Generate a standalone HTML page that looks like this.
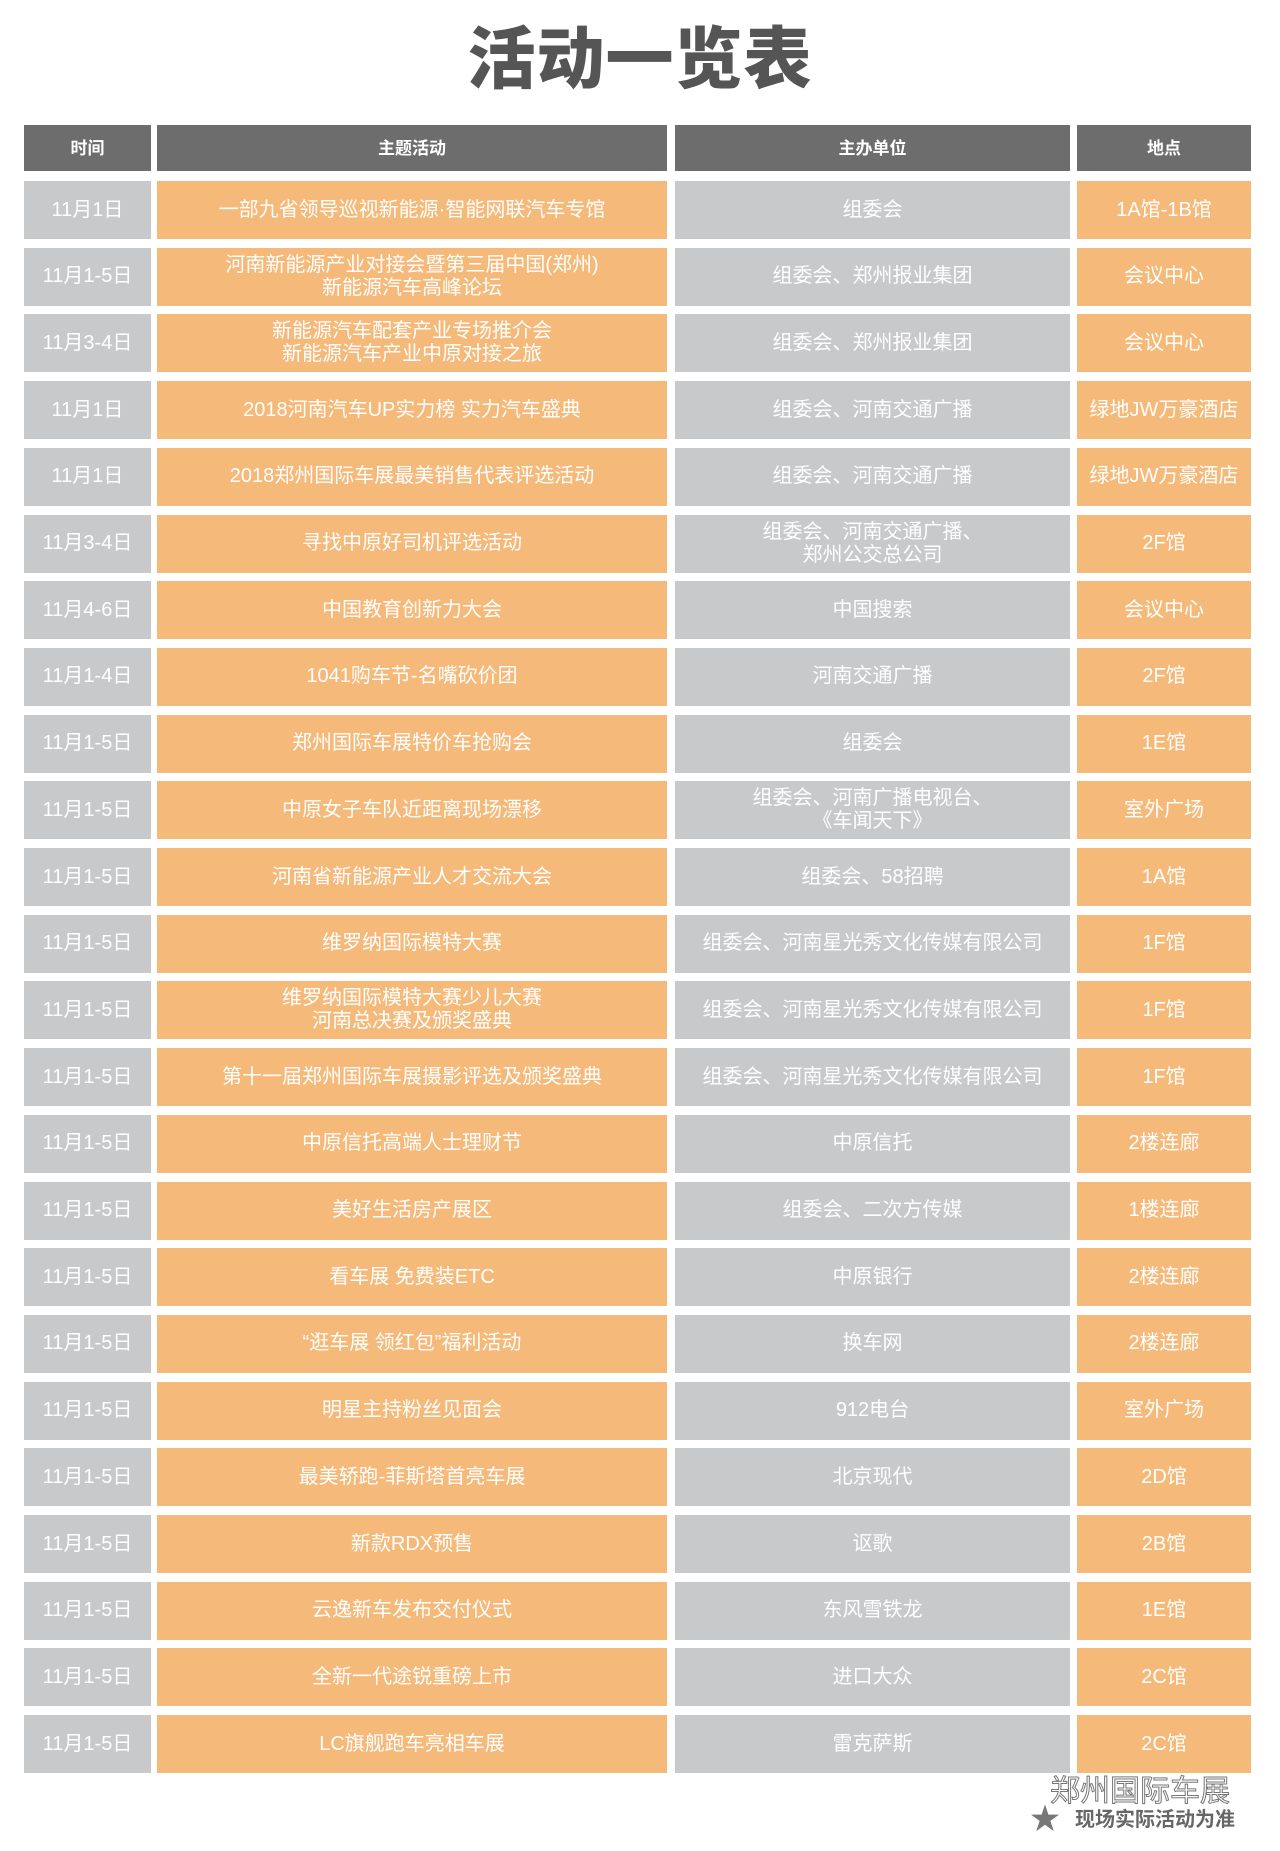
<!DOCTYPE html>
<html><head><meta charset="utf-8"><style>
html,body{margin:0;padding:0;background:#fff;}
body{width:1280px;height:1851px;position:relative;overflow:hidden;font-family:"Liberation Sans","Noto Sans CJK SC",sans-serif;}
.t{position:absolute;left:0;width:1280px;top:22px;text-align:center;font-size:68px;font-weight:900;color:#555;line-height:76px;letter-spacing:1px;}
.r{position:absolute;left:0;width:1280px;height:58px;}
.c{position:absolute;top:0;height:58px;display:flex;align-items:center;justify-content:center;text-align:center;color:#fff;font-size:20px;line-height:23px;}
.hd{top:125px;height:46px;}
.hd .c{background:#6d6d6d;font-weight:bold;font-size:17px;height:46px;}
.g{background:#c8c9cb;}
.o{background:#f5b97a;}
.c1{left:24px;width:127px;}
.c2{left:157px;width:510px;}
.c3{left:675px;width:395px;}
.c4{left:1077px;width:174px;}
.r0{top:181px}.r1{top:247.7px}.r2{top:314.4px}.r3{top:381.1px}.r4{top:447.8px}.r5{top:514.5px}
.r6{top:581.2px}.r7{top:647.9px}.r8{top:714.6px}.r9{top:781.3px}.r10{top:848px}.r11{top:914.7px}
.r12{top:981.4px}.r13{top:1048.1px}.r14{top:1114.8px}.r15{top:1181.5px}.r16{top:1248.2px}.r17{top:1314.9px}
.r18{top:1381.6px}.r19{top:1448.3px}.r20{top:1515px}.r21{top:1581.7px}.r22{top:1648.4px}.r23{top:1715.1px}
.wm1{position:absolute;left:1050px;top:1775px;font-size:30px;color:#fff;-webkit-text-stroke:1px #777;line-height:34px;}
.wm2{position:absolute;left:1075px;top:1808px;font-size:20px;font-weight:bold;color:#666;line-height:24px;}
.star{position:absolute;left:1030px;top:1805px;font-size:30px;color:#777;line-height:30px;}
</style></head><body>
<div class="t">活动一览表</div>
<div class="r hd"><div class="c c1">时间</div><div class="c c2">主题活动</div><div class="c c3">主办单位</div><div class="c c4">地点</div></div>
<div class="r r0"><div class="c g c1">11月1日</div><div class="c o c2">一部九省领导巡视新能源·智能网联汽车专馆</div><div class="c g c3">组委会</div><div class="c o c4">1A馆-1B馆</div></div>
<div class="r r1"><div class="c g c1">11月1-5日</div><div class="c o c2">河南新能源产业对接会暨第三届中国(郑州)<br>新能源汽车高峰论坛</div><div class="c g c3">组委会、郑州报业集团</div><div class="c o c4">会议中心</div></div>
<div class="r r2"><div class="c g c1">11月3-4日</div><div class="c o c2">新能源汽车配套产业专场推介会<br>新能源汽车产业中原对接之旅</div><div class="c g c3">组委会、郑州报业集团</div><div class="c o c4">会议中心</div></div>
<div class="r r3"><div class="c g c1">11月1日</div><div class="c o c2">2018河南汽车UP实力榜 实力汽车盛典</div><div class="c g c3">组委会、河南交通广播</div><div class="c o c4">绿地JW万豪酒店</div></div>
<div class="r r4"><div class="c g c1">11月1日</div><div class="c o c2">2018郑州国际车展最美销售代表评选活动</div><div class="c g c3">组委会、河南交通广播</div><div class="c o c4">绿地JW万豪酒店</div></div>
<div class="r r5"><div class="c g c1">11月3-4日</div><div class="c o c2">寻找中原好司机评选活动</div><div class="c g c3">组委会、河南交通广播、<br>郑州公交总公司</div><div class="c o c4">2F馆</div></div>
<div class="r r6"><div class="c g c1">11月4-6日</div><div class="c o c2">中国教育创新力大会</div><div class="c g c3">中国搜索</div><div class="c o c4">会议中心</div></div>
<div class="r r7"><div class="c g c1">11月1-4日</div><div class="c o c2">1041购车节-名嘴砍价团</div><div class="c g c3">河南交通广播</div><div class="c o c4">2F馆</div></div>
<div class="r r8"><div class="c g c1">11月1-5日</div><div class="c o c2">郑州国际车展特价车抢购会</div><div class="c g c3">组委会</div><div class="c o c4">1E馆</div></div>
<div class="r r9"><div class="c g c1">11月1-5日</div><div class="c o c2">中原女子车队近距离现场漂移</div><div class="c g c3">组委会、河南广播电视台、<br>《车闻天下》</div><div class="c o c4">室外广场</div></div>
<div class="r r10"><div class="c g c1">11月1-5日</div><div class="c o c2">河南省新能源产业人才交流大会</div><div class="c g c3">组委会、58招聘</div><div class="c o c4">1A馆</div></div>
<div class="r r11"><div class="c g c1">11月1-5日</div><div class="c o c2">维罗纳国际模特大赛</div><div class="c g c3">组委会、河南星光秀文化传媒有限公司</div><div class="c o c4">1F馆</div></div>
<div class="r r12"><div class="c g c1">11月1-5日</div><div class="c o c2">维罗纳国际模特大赛少儿大赛<br>河南总决赛及颁奖盛典</div><div class="c g c3">组委会、河南星光秀文化传媒有限公司</div><div class="c o c4">1F馆</div></div>
<div class="r r13"><div class="c g c1">11月1-5日</div><div class="c o c2">第十一届郑州国际车展摄影评选及颁奖盛典</div><div class="c g c3">组委会、河南星光秀文化传媒有限公司</div><div class="c o c4">1F馆</div></div>
<div class="r r14"><div class="c g c1">11月1-5日</div><div class="c o c2">中原信托高端人士理财节</div><div class="c g c3">中原信托</div><div class="c o c4">2楼连廊</div></div>
<div class="r r15"><div class="c g c1">11月1-5日</div><div class="c o c2">美好生活房产展区</div><div class="c g c3">组委会、二次方传媒</div><div class="c o c4">1楼连廊</div></div>
<div class="r r16"><div class="c g c1">11月1-5日</div><div class="c o c2">看车展 免费装ETC</div><div class="c g c3">中原银行</div><div class="c o c4">2楼连廊</div></div>
<div class="r r17"><div class="c g c1">11月1-5日</div><div class="c o c2">“逛车展 领红包”福利活动</div><div class="c g c3">换车网</div><div class="c o c4">2楼连廊</div></div>
<div class="r r18"><div class="c g c1">11月1-5日</div><div class="c o c2">明星主持粉丝见面会</div><div class="c g c3">912电台</div><div class="c o c4">室外广场</div></div>
<div class="r r19"><div class="c g c1">11月1-5日</div><div class="c o c2">最美轿跑-菲斯塔首亮车展</div><div class="c g c3">北京现代</div><div class="c o c4">2D馆</div></div>
<div class="r r20"><div class="c g c1">11月1-5日</div><div class="c o c2">新款RDX预售</div><div class="c g c3">讴歌</div><div class="c o c4">2B馆</div></div>
<div class="r r21"><div class="c g c1">11月1-5日</div><div class="c o c2">云逸新车发布交付仪式</div><div class="c g c3">东风雪铁龙</div><div class="c o c4">1E馆</div></div>
<div class="r r22"><div class="c g c1">11月1-5日</div><div class="c o c2">全新一代途锐重磅上市</div><div class="c g c3">进口大众</div><div class="c o c4">2C馆</div></div>
<div class="r r23"><div class="c g c1">11月1-5日</div><div class="c o c2">LC旗舰跑车亮相车展</div><div class="c g c3">雷克萨斯</div><div class="c o c4">2C馆</div></div>
<div class="wm1">郑州国际车展</div>
<div class="wm2">现场实际活动为准</div>
<div class="star">★</div>
</body></html>
